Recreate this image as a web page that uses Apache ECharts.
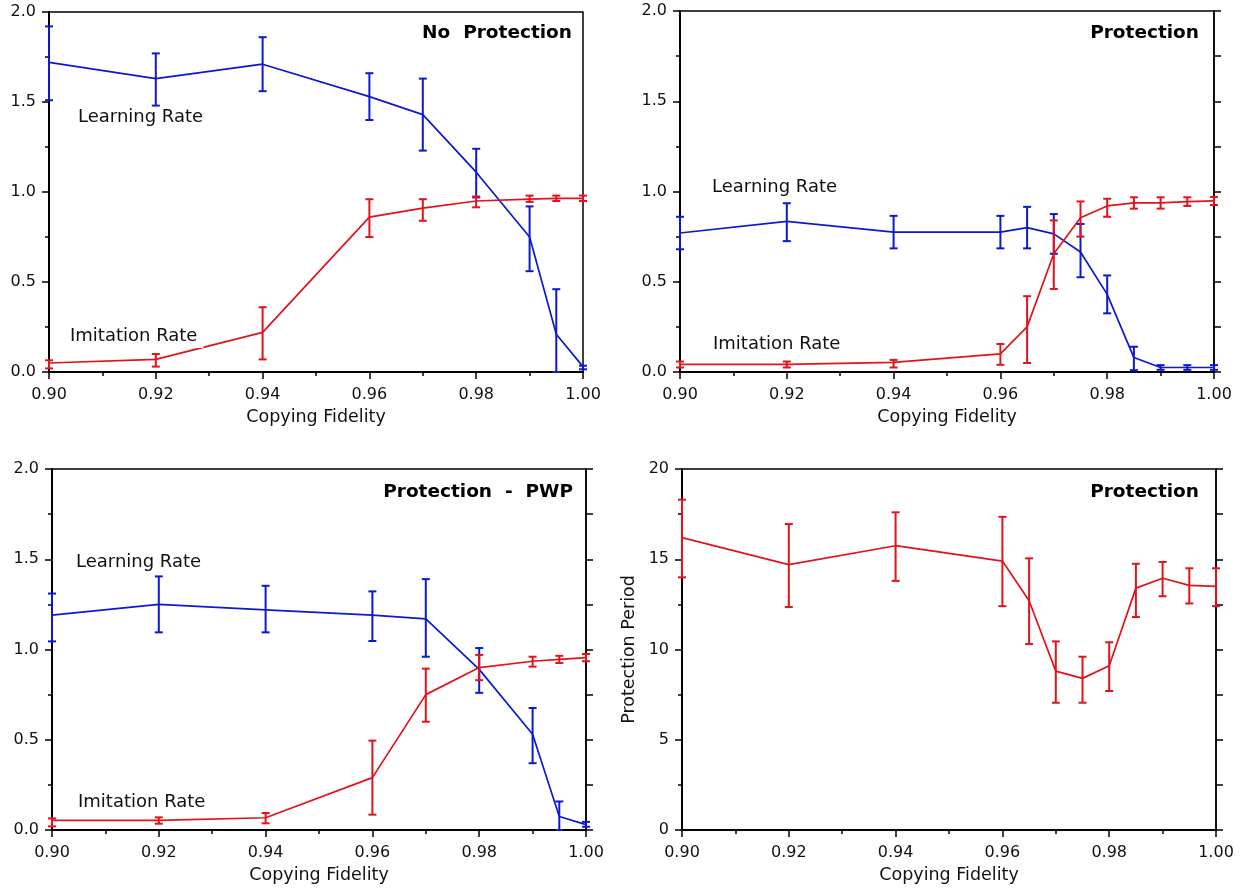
<!DOCTYPE html>
<html><head><meta charset="utf-8">
<script src="https://cdn.jsdelivr.net/npm/echarts@6/dist/echarts.min.js"></script>
<style>html,body{margin:0;padding:0;background:#fff}#c{width:1243px;height:892px}</style>
</head><body><div id="c"></div>
<script>
// ---- Data ----
const xP1 = [0.90, 0.92, 0.94, 0.96, 0.97, 0.98, 0.99, 0.995, 1.00];
const learn1   = [1.72, 1.63, 1.71, 1.53, 1.43, 1.11, 0.75, 0.21, 0.03];
const learn1Lo = [1.51, 1.48, 1.56, 1.40, 1.23, 0.97, 0.56, 0.00, 0.015];
const learn1Hi = [1.92, 1.77, 1.86, 1.66, 1.63, 1.24, 0.92, 0.46, 0.035];
const imit1    = [0.05, 0.07, 0.22, 0.86, 0.91, 0.95, 0.96, 0.965, 0.965];
const imit1Lo  = [0.02, 0.03, 0.07, 0.75, 0.84, 0.915, 0.945, 0.95, 0.95];
const imit1Hi  = [0.065, 0.10, 0.36, 0.96, 0.96, 0.975, 0.98, 0.98, 0.98];

const xP2 = [0.90, 0.92, 0.94, 0.96, 0.965, 0.97, 0.975, 0.98, 0.985, 0.99, 0.995, 1.00];
const learn2   = [0.77, 0.835, 0.775, 0.775, 0.80, 0.765, 0.665, 0.43, 0.08, 0.025, 0.025, 0.025];
const learn2Lo = [0.68, 0.725, 0.685, 0.685, 0.685, 0.655, 0.525, 0.325, 0.01, 0.012, 0.012, 0.012];
const learn2Hi = [0.86, 0.935, 0.865, 0.865, 0.915, 0.875, 0.82, 0.535, 0.14, 0.038, 0.038, 0.038];
const imit2    = [0.042, 0.042, 0.053, 0.10, 0.25, 0.655, 0.855, 0.92, 0.937, 0.937, 0.944, 0.948];
const imit2Lo  = [0.025, 0.025, 0.025, 0.04, 0.05, 0.46, 0.75, 0.86, 0.905, 0.905, 0.92, 0.925];
const imit2Hi  = [0.058, 0.058, 0.067, 0.155, 0.42, 0.84, 0.945, 0.96, 0.968, 0.968, 0.968, 0.97];

const xP3 = [0.90, 0.92, 0.94, 0.96, 0.97, 0.98, 0.99, 0.995, 1.00];
const learn3   = [1.19, 1.25, 1.22, 1.19, 1.17, 0.89, 0.53, 0.075, 0.03];
const learn3Lo = [1.045, 1.095, 1.095, 1.047, 0.96, 0.76, 0.37, 0.00, 0.018];
const learn3Hi = [1.31, 1.405, 1.353, 1.322, 1.39, 1.008, 0.676, 0.158, 0.045];
const imit3    = [0.053, 0.053, 0.068, 0.29, 0.75, 0.90, 0.935, 0.945, 0.955];
const imit3Lo  = [0.02, 0.035, 0.037, 0.085, 0.60, 0.83, 0.905, 0.925, 0.935];
const imit3Hi  = [0.064, 0.07, 0.094, 0.495, 0.894, 0.97, 0.96, 0.965, 0.975];

const xP4 = [0.90, 0.92, 0.94, 0.96, 0.965, 0.97, 0.975, 0.98, 0.985, 0.99, 0.995, 1.00];
const prot   = [16.2, 14.7, 15.75, 14.9, 12.7, 8.8, 8.4, 9.1, 13.4, 13.95, 13.55, 13.5];
const protLo = [14.0, 12.35, 13.8, 12.4, 10.3, 7.05, 7.05, 7.7, 11.8, 12.95, 12.55, 12.4];
const protHi = [18.3, 16.95, 17.6, 17.35, 15.05, 10.45, 9.6, 10.4, 14.75, 14.85, 14.5, 14.5];

// ---- Styles ----
const BLUE = '#0c18d2';
const RED = '#e3121b';
const FONT = 'DejaVu Sans';

const chart = echarts.init(document.getElementById('c'));

const grids = [
  {left: 49, top: 12, width: 534, height: 360},
  {left: 680, top: 11, width: 534, height: 361},
  {left: 52, top: 469, width: 534, height: 361},
  {left: 682, top: 469, width: 534, height: 361}
].map(g => Object.assign(g, {show: true, borderColor: '#000', borderWidth: 1.5, backgroundColor: 'transparent'}));

function xAxis(i) {
  return {
    type: 'value', gridIndex: i, min: 0.9, max: 1.0, interval: 0.02,
    name: 'Copying Fidelity', nameLocation: 'middle', nameGap: 36,
    nameTextStyle: {fontFamily: FONT, fontSize: 17.5, color: '#111'},
    axisLine: {show: true, onZero: false, lineStyle: {color: '#000', width: 2}},
    axisTick: {show: true, length: 7, lineStyle: {color: '#000', width: 1.5}},
    minorTick: {show: true, splitNumber: 2, length: 4, lineStyle: {color: '#000', width: 1.5}},
    axisLabel: {margin: 15, fontFamily: FONT, fontSize: 16, color: '#111', formatter: v => v.toFixed(2)},
    splitLine: {show: false}
  };
}
function yAxisLeft(i, max, interval, dec, name) {
  return {
    type: 'value', gridIndex: i, min: 0, max: max, interval: interval, position: 'left',
    name: name || '', nameLocation: 'middle', nameGap: 44,
    nameTextStyle: {fontFamily: FONT, fontSize: 17.5, color: '#111'},
    axisLine: {show: true, onZero: false, lineStyle: {color: '#000', width: 2}},
    axisTick: {show: true, length: 7, lineStyle: {color: '#000', width: 1.5}},
    minorTick: {show: true, splitNumber: 2, length: 4, lineStyle: {color: '#000', width: 1.5}},
    axisLabel: {margin: 13, fontFamily: FONT, fontSize: 16, color: '#111', formatter: v => v.toFixed(dec)},
    splitLine: {show: false}
  };
}
function yAxisRight(i, max, interval) {
  return {
    type: 'value', gridIndex: i, min: 0, max: max, interval: interval, position: 'right',
    axisLine: {show: true, onZero: false, lineStyle: {color: '#000', width: 1.5}},
    axisTick: {show: true, length: 7, lineStyle: {color: '#000', width: 1.5}},
    axisLabel: {show: false},
    splitLine: {show: false}
  };
}

const xAxes = [xAxis(0), xAxis(1), xAxis(2), xAxis(3)];
const yAxes = [
  yAxisLeft(0, 2, 0.5, 1),            // 0
  yAxisLeft(1, 2, 0.5, 1),            // 1
  yAxisRight(1, 2, 0.25),             // 2
  yAxisLeft(2, 2, 0.5, 1),            // 3
  yAxisRight(2, 2, 0.25),             // 4
  yAxisLeft(3, 20, 5, 0, 'Protection Period'), // 5
  yAxisRight(3, 20, 2.5)              // 6
];

function zip2(xs, ys) { return xs.map((x, i) => [x, ys[i]]); }
function zip3(xs, lo, hi) { return xs.map((x, i) => [x, lo[i], hi[i]]); }

function lineSeries(xi, yi, xs, ys, color) {
  return {
    type: 'line', xAxisIndex: xi, yAxisIndex: yi, data: zip2(xs, ys),
    showSymbol: false, symbol: 'none', lineStyle: {color: color, width: 1.7},
    itemStyle: {color: color}, z: 3, animation: false
  };
}
function errSeries(xi, yi, xs, lo, hi, color) {
  return {
    type: 'custom', xAxisIndex: xi, yAxisIndex: yi, data: zip3(xs, lo, hi),
    encode: {x: 0, y: [1, 2]}, z: 4, animation: false,
    renderItem: function (params, api) {
      const x = api.value(0);
      const a = api.coord([x, api.value(1)]);
      const b = api.coord([x, api.value(2)]);
      const w = 4;
      const st = {stroke: color, lineWidth: 2};
      return {type: 'group', children: [
        {type: 'line', shape: {x1: a[0], y1: a[1], x2: b[0], y2: b[1]}, style: st},
        {type: 'line', shape: {x1: a[0] - w, y1: a[1], x2: a[0] + w, y2: a[1]}, style: st},
        {type: 'line', shape: {x1: b[0] - w, y1: b[1], x2: b[0] + w, y2: b[1]}, style: st}
      ]};
    }
  };
}

const series = [
  lineSeries(0, 0, xP1, learn1, BLUE), errSeries(0, 0, xP1, learn1Lo, learn1Hi, BLUE),
  lineSeries(0, 0, xP1, imit1, RED), errSeries(0, 0, xP1, imit1Lo, imit1Hi, RED),
  lineSeries(1, 1, xP2, learn2, BLUE), errSeries(1, 1, xP2, learn2Lo, learn2Hi, BLUE),
  lineSeries(1, 1, xP2, imit2, RED), errSeries(1, 1, xP2, imit2Lo, imit2Hi, RED),
  lineSeries(2, 3, xP3, learn3, BLUE), errSeries(2, 3, xP3, learn3Lo, learn3Hi, BLUE),
  lineSeries(2, 3, xP3, imit3, RED), errSeries(2, 3, xP3, imit3Lo, imit3Hi, RED),
  lineSeries(3, 5, xP4, prot, RED), errSeries(3, 5, xP4, protLo, protHi, RED)
];

function title(text, xr, y) {
  return {type: 'text', z: 50, style: {text: text, x: xr, y: y, textAlign: 'right', textVerticalAlign: 'middle',
    font: 'bold 18.5px "' + FONT + '"', fill: '#000'}};
}
function label(text, x, y, masked) {
  const st = {text: text, x: x, y: y, textAlign: 'left', textVerticalAlign: 'middle',
    font: '18px "' + FONT + '"', fill: '#111'};
  if (masked) { st.backgroundColor = '#fff'; st.padding = [0, 6, 6, 0]; }
  return {type: 'text', z: 50, style: st};
}

const graphics = [
  title('No  Protection', 572, 33),
  title('Protection', 1199, 33),
  title('Protection  -  PWP', 573, 492),
  title('Protection', 1199, 492),
  label('Learning Rate', 78, 117),
  label('Imitation Rate', 70, 336, true),
  label('Learning Rate', 712, 187),
  label('Imitation Rate', 713, 344),
  label('Learning Rate', 76, 562),
  label('Imitation Rate', 78, 802)
];

chart.setOption({
  animation: false,
  backgroundColor: '#fff',
  grid: grids,
  xAxis: xAxes,
  yAxis: yAxes,
  series: series,
  graphic: graphics
});
</script></body></html>
